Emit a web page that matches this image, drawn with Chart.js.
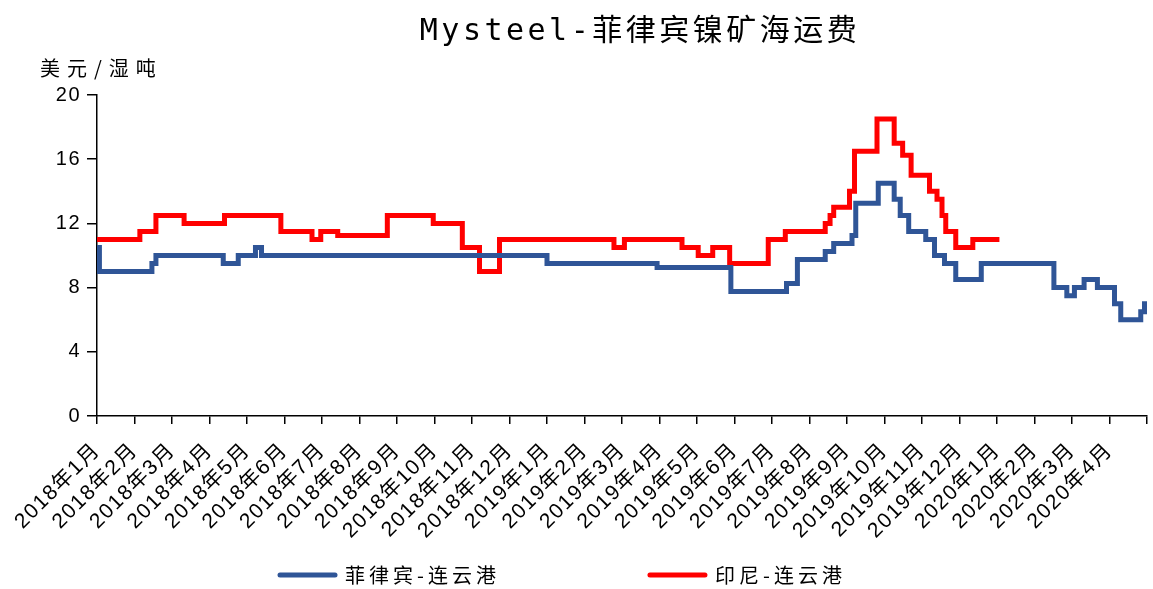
<!DOCTYPE html>
<html><head><meta charset="utf-8">
<script src="https://cdn.jsdelivr.net/npm/chart.js@4/dist/chart.umd.min.js"></script>
<style>html,body{margin:0;padding:0;background:#fff;overflow:hidden}</style>
</head><body>
<canvas id="c" width="1153" height="589" style="display:block;width:1153px;height:589px"></canvas>
<script>
const chartTitle = 'Mysteel-菲律宾镍矿海运费';
const unitLabel = '美元/湿吨';
const monthLabels = ['2018年1月','2018年2月','2018年3月','2018年4月','2018年5月','2018年6月','2018年7月','2018年8月','2018年9月','2018年10月','2018年11月','2018年12月',
  '2019年1月','2019年2月','2019年3月','2019年4月','2019年5月','2019年6月','2019年7月','2019年8月','2019年9月','2019年10月','2019年11月','2019年12月',
  '2020年1月','2020年2月','2020年3月','2020年4月'];
const yTicks = [0, 4, 8, 12, 16, 20];

const phlName = '菲律宾-连云港';
const phlDates = ['2018-01-01','2018-01-03','2018-02-14','2018-02-17','2018-04-12','2018-04-24','2018-05-08','2018-05-13',
  '2019-01-01','2019-03-30','2019-05-29','2019-07-13','2019-07-22','2019-08-14','2019-08-21','2019-09-05','2019-09-08',
  '2019-09-26','2019-10-09','2019-10-14','2019-10-21','2019-11-04','2019-11-11','2019-11-19','2019-11-28','2019-12-19',
  '2020-02-16','2020-02-26','2020-03-03','2020-03-11','2020-03-22','2020-04-05','2020-04-10','2020-04-26','2020-04-29','2020-05-01'];
const phlValues = [10.5, 9.0, 9.5, 10.0, 9.5, 10.0, 10.5, 10.0,
  9.5, 9.25, 7.75, 8.25, 9.75, 10.25, 10.75, 11.25, 13.25,
  14.5, 13.5, 12.5, 11.5, 11.0, 10.0, 9.5, 8.5, 9.5,
  8.0, 7.5, 8.0, 8.5, 8.0, 7.0, 6.0, 6.5, 7.0, 7.0];

const idnName = '印尼-连云港';
const idnDates = ['2018-01-01','2018-02-05','2018-02-17','2018-03-11','2018-04-13','2018-05-29','2018-06-23','2018-06-30',
  '2018-07-14','2018-08-24','2018-09-30','2018-10-24','2018-11-07','2018-11-23','2019-02-23','2019-03-03','2019-04-19',
  '2019-05-02','2019-05-14','2019-05-28','2019-06-28','2019-07-12','2019-08-14','2019-08-18','2019-08-21','2019-09-03',
  '2019-09-07','2019-09-25','2019-10-09','2019-10-16','2019-10-23','2019-11-07','2019-11-13','2019-11-17','2019-11-20',
  '2019-11-28','2019-12-12','2020-01-03'];
const idnValues = [11.0, 11.5, 12.5, 12.0, 12.5, 11.5, 11.0, 11.5,
  11.25, 12.5, 12.0, 10.5, 9.0, 11.0, 10.5, 11.0, 10.5,
  10.0, 10.5, 9.5, 11.0, 11.5, 12.0, 12.5, 13.0, 14.0,
  16.5, 18.5, 17.0, 16.25, 15.0, 14.0, 13.5, 12.5, 11.5,
  10.5, 11.0, 11.0];

const BLUE = '#2F5597', RED = '#FF0000';

// position on month-based axis (each month equal width, as in the reference)
function toPos(s) {
  const [y, m, d] = s.split('-').map(Number);
  const dim = new Date(y, m, 0).getDate();
  return (y - 2018) * 12 + (m - 1) + (d - 1) / dim;
}
const series = (dates, vals) => dates.map((d, i) => ({ x: toPos(d), y: vals[i] }));

const tickFont = { size: 21, family: '"Liberation Sans", "Noto Sans CJK SC", sans-serif' };

const decor = {
  id: 'decor',
  beforeDraw(chart) { chart.ctx.letterSpacing = '1.5px'; },
  beforeDatasetsDraw(chart) { chart.ctx.letterSpacing = '0px'; },
  afterDraw(chart) {
    const ctx = chart.ctx;
    ctx.save();
    // title
    ctx.fillStyle = '#000';
    ctx.textBaseline = 'middle';
    ctx.textAlign = 'center';
    ctx.font = '30px "DejaVu Sans Mono", "Noto Sans CJK SC", monospace';
    ctx.letterSpacing = '3.5px';
    ctx.fillText(chartTitle, 640, 32);
    // unit label
    ctx.textAlign = 'left';
    ctx.font = '20px "Noto Sans CJK SC", sans-serif';
    ctx.letterSpacing = '7px';
    ctx.fillText(unitLabel, 40, 68);
    // legend
    ctx.font = '20px "Noto Sans CJK SC", sans-serif';
    ctx.letterSpacing = '4px';
    let x = 280;
    const y = 575;
    chart.data.datasets.forEach(ds => {
      ctx.strokeStyle = ds.borderColor;
      ctx.lineWidth = 5;
      ctx.lineCap = 'round';
      ctx.beginPath();
      ctx.moveTo(x, y);
      ctx.lineTo(x + 55, y);
      ctx.stroke();
      ctx.fillStyle = '#000';
      ctx.fillText(ds.label, x + 65, y);
      x += 65 + ctx.measureText(ds.label).width + 150;
    });
    ctx.restore();
  }
};

new Chart(document.getElementById('c').getContext('2d'), {
  type: 'line',
  data: {
    datasets: [
      { label: phlName, data: series(phlDates, phlValues), borderColor: BLUE, backgroundColor: BLUE,
        borderWidth: 5, pointRadius: 0, stepped: 'before', fill: false, borderJoinStyle: 'miter' },
      { label: idnName, data: series(idnDates, idnValues), borderColor: RED, backgroundColor: RED,
        borderWidth: 5, pointRadius: 0, stepped: 'before', fill: false, borderJoinStyle: 'miter' }
    ]
  },
  options: {
    responsive: false,
    animation: false,
    devicePixelRatio: 1,
    layout: { padding: { left: 0, right: 6, top: 95, bottom: 0 } },
    plugins: { legend: { display: false }, title: { display: false }, tooltip: { enabled: false } },
    scales: {
      x: {
        type: 'linear', min: 0, max: monthLabels.length,
        afterFit(s) { s.height = 173; s.paddingLeft = 0; s.paddingRight = 0; },
        afterBuildTicks(s) { s.ticks = monthLabels.map((_, i) => ({ value: i })).concat([{ value: monthLabels.length }]); },
        ticks: { autoSkip: false, maxRotation: 45, minRotation: 45, padding: 14, font: tickFont, color: '#000',
          callback: (v) => monthLabels[v] !== undefined ? monthLabels[v] : '' },
        grid: { display: true, drawOnChartArea: false, drawTicks: true, tickLength: 8, color: '#000', lineWidth: 1.5 },
        border: { color: '#000', width: 1.5 }
      },
      y: {
        min: 0, max: 20,
        afterFit(s) { s.width = 97; s.paddingTop = 0; s.paddingBottom = 0; },
        afterBuildTicks(s) { s.ticks = yTicks.map(v => ({ value: v })); },
        ticks: { font: { size: 20, family: tickFont.family }, color: '#000', padding: 6 },
        grid: { display: true, drawOnChartArea: false, drawTicks: true, tickLength: 10, color: '#000', lineWidth: 1.5 },
        border: { color: '#000', width: 1.5 }
      }
    }
  },
  plugins: [decor]
});
</script>
</body></html>
